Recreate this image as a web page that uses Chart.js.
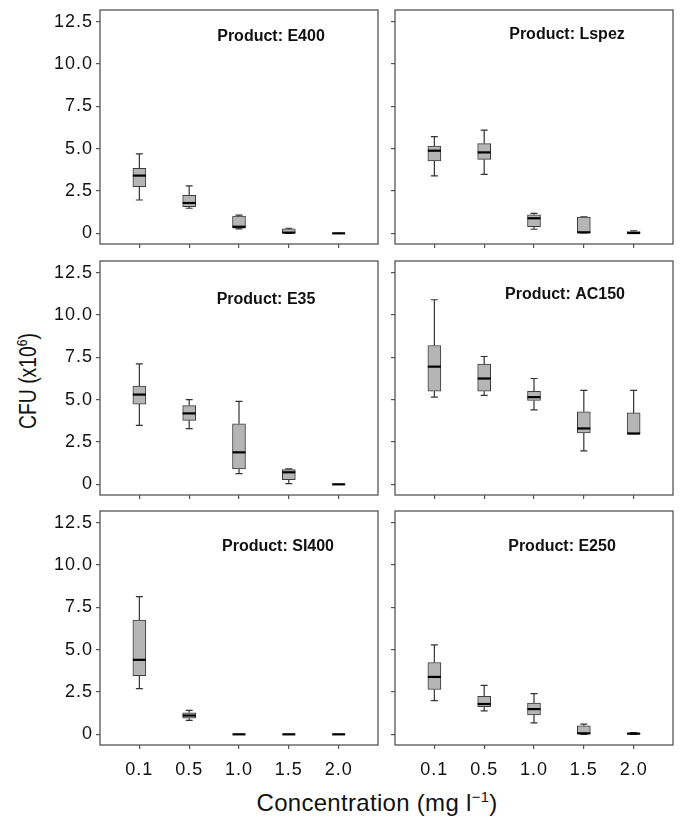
<!DOCTYPE html>
<html>
<head>
<meta charset="utf-8">
<script src="https://cdn.jsdelivr.net/npm/chart.js@4.4.1/dist/chart.umd.min.js"></script>
<style>
    body { margin: 0; background: #fff; width: 681px; height: 822px; position: relative; overflow: hidden;
           font-family: "Liberation Sans", Arial, sans-serif; color: #111; }
    canvas { position: absolute; }
    #yTitle { position: absolute; left: 28px; top: 381px; transform: translate(-50%, -50%) rotate(-90deg) scaleX(0.84);
              white-space: nowrap; font-size: 23px; }
    #xTitle { position: absolute; left: 377px; top: 803px; transform: translate(-50%, -50%);
              white-space: nowrap; font-size: 24px; letter-spacing: 0.3px; }
    sup { font-size: 62%; line-height: 0; vertical-align: 0.6em; }
</style>
</head>
<body>
<div id="yTitle">CFU (x10<sup>6</sup>)</div>
<div id="xTitle">Concentration (mg l<sup>−1</sup>)</div>
<script>
// Concentrations (category positions 1..5 on the x scale)
const concLabels = ['0.1', '0.5', '1.0', '1.5', '2.0'];
const concPos = [1, 2, 3, 4, 5];

const yTickValues = [0, 2.5, 5, 7.5, 10, 12.5];
const yTickLabels = ['0', '2.5', '5.0', '7.5', '10.0', '12.5'];

// Box stats per concentration: [min, q1, median, q3, max]
const E400 = [[1.97, 2.76, 3.41, 3.84, 4.69], [1.48, 1.57, 1.79, 2.24, 2.80], [0.26, 0.31, 0.39, 1.02, 1.08], [0, 0.02, 0.04, 0.26, 0.30], [0, 0, 0, 0, 0]];
const Lspez = [[3.39, 4.27, 4.88, 5.16, 5.71], [3.48, 4.37, 4.78, 5.30, 6.10], [0.24, 0.39, 0.89, 1.10, 1.18], [0.02, 0.04, 0.06, 0.96, 0.98], [0, 0, 0.02, 0.10, 0.14]];
const E35 = [[3.48, 4.74, 5.30, 5.81, 7.11], [3.29, 3.78, 4.19, 4.65, 5.00], [0.63, 0.91, 1.89, 3.58, 4.90], [0.04, 0.28, 0.71, 0.87, 0.91], [0, 0, 0, 0, 0]];
const AC150 = [[5.15, 5.50, 6.95, 8.20, 10.90], [5.25, 5.50, 6.25, 7.10, 7.55], [4.40, 4.95, 5.15, 5.50, 6.25], [1.98, 3.03, 3.30, 4.28, 5.55], [3.00, 3.00, 3.00, 4.22, 5.55]];
const SI400 = [[2.70, 3.47, 4.40, 6.75, 8.13], [0.83, 0.95, 1.11, 1.27, 1.41], [0, 0, 0, 0, 0], [0, 0, 0, 0, 0], [0, 0, 0, 0, 0]];
const E250 = [[1.99, 2.65, 3.39, 4.24, 5.28], [1.39, 1.63, 1.79, 2.25, 2.89], [0.68, 1.14, 1.49, 1.85, 2.41], [0, 0.02, 0.06, 0.50, 0.60], [0, 0, 0.04, 0.08, 0.10]];

const products = ['E400', 'Lspez', 'E35', 'AC150', 'SI400', 'E250'];
const productStats = [E400, Lspez, E35, AC150, SI400, E250];

// layout (pixels)
const colX = [100, 395];
const rowY = [10, 261, 511];
const PANEL_W = 278, PANEL_H = 234, PAD_TOP = 15;
// product label centre, relative to panel top-left
const titleOffsets = [[171, 27], [172, 25], [166, 39], [170, 34], [178, 36], [167, 36]];

const tickFont = { family: '"Liberation Sans", Arial, sans-serif', size: 18 };

function boxPlugin(stats, title, offset) {
    return {
        id: 'boxWhisker',
        beforeDraw(chart) {
            // slightly wider tick labels, like the original figure
            chart.ctx.letterSpacing = '1px';
        },
        beforeDatasetsDraw(chart) {
            const { ctx, scales: { x, y } } = chart;
            ctx.save();
            ctx.strokeStyle = '#333';
            ctx.lineWidth = 1.2;
            stats.forEach((s, k) => {
                const px = x.getPixelForValue(concPos[k]);
                const [lo, q1, , q3, hi] = s.map(v => y.getPixelForValue(v));
                ctx.beginPath();
                ctx.moveTo(px, q3); ctx.lineTo(px, hi);
                ctx.moveTo(px - 3.5, hi); ctx.lineTo(px + 3.5, hi);
                ctx.moveTo(px, q1); ctx.lineTo(px, lo);
                ctx.moveTo(px - 3.5, lo); ctx.lineTo(px + 3.5, lo);
                ctx.stroke();
            });
            ctx.restore();
        },
        afterDatasetsDraw(chart) {
            const { ctx, chartArea: a, scales: { x, y } } = chart;
            ctx.save();
            // medians
            ctx.strokeStyle = '#000';
            ctx.lineWidth = 2.2;
            stats.forEach((s, k) => {
                const px = x.getPixelForValue(concPos[k]);
                const py = y.getPixelForValue(s[2]);
                ctx.beginPath();
                ctx.moveTo(px - 6.5, py); ctx.lineTo(px + 6.5, py);
                ctx.stroke();
            });
            // panel frame
            ctx.strokeStyle = '#555';
            ctx.lineWidth = 1.3;
            ctx.strokeRect(a.left, a.top, a.right - a.left, a.bottom - a.top);
            // product label
            ctx.letterSpacing = '0px';
            ctx.fillStyle = '#111';
            ctx.font = 'bold 16px "Liberation Sans", Arial, sans-serif';
            ctx.textAlign = 'center';
            ctx.textBaseline = 'middle';
            ctx.fillText('Product: ' + title, a.left + offset[0], a.top + offset[1]);
            ctx.restore();
        }
    };
}

products.forEach((name, i) => {
    const col = i % 2, row = Math.floor(i / 2);
    const yw = col === 0 ? 62 : 12;
    const xh = row === 2 ? 45 : 14;
    const canvas = document.createElement('canvas');
    canvas.width = yw + PANEL_W + 4;
    canvas.height = PAD_TOP + PANEL_H + xh;
    canvas.style.left = (colX[col] - yw) + 'px';
    canvas.style.top = (rowY[row] - PAD_TOP) + 'px';
    document.body.appendChild(canvas);

    const stats = productStats[i];
    new Chart(canvas.getContext('2d'), {
        type: 'bar',
        data: {
            datasets: [{
                data: stats.map((s, k) => ({ x: concPos[k], y: [s[1], s[3]] })),
                backgroundColor: '#b5b5b5',
                borderColor: '#3c3c3c',
                borderWidth: 1,
                borderSkipped: false,
                barThickness: 13
            }]
        },
        options: {
            responsive: false,
            animation: false,
            events: [],
            layout: { padding: { top: PAD_TOP, right: 4, left: 0, bottom: 0 } },
            plugins: { legend: { display: false }, tooltip: { enabled: false } },
            scales: {
                x: {
                    type: 'linear',
                    min: 0.21,
                    max: 5.79,
                    offset: false,
                    afterBuildTicks: s => { s.ticks = concPos.map(v => ({ value: v })); },
                    afterFit: s => { s.height = xh; },
                    ticks: {
                        display: row === 2,
                        callback: (v, idx) => concLabels[idx],
                        font: tickFont,
                        color: '#111',
                        padding: 10,
                        maxRotation: 0
                    },
                    grid: { display: true, offset: false, drawOnChartArea: false, tickLength: 4, color: '#555', lineWidth: 1.2 },
                    border: { display: false }
                },
                y: {
                    min: -0.63,
                    max: 13.19,
                    afterBuildTicks: s => { s.ticks = yTickValues.map(v => ({ value: v })); },
                    afterFit: s => { s.width = yw; },
                    ticks: {
                        display: col === 0,
                        callback: (v, idx) => yTickLabels[idx],
                        font: tickFont,
                        color: '#111',
                        padding: 3
                    },
                    grid: { display: true, drawOnChartArea: false, tickLength: 4, color: '#555', lineWidth: 1.2 },
                    border: { display: false }
                }
            }
        },
        plugins: [boxPlugin(stats, name, titleOffsets[i])]
    });
});
</script>
</body>
</html>
